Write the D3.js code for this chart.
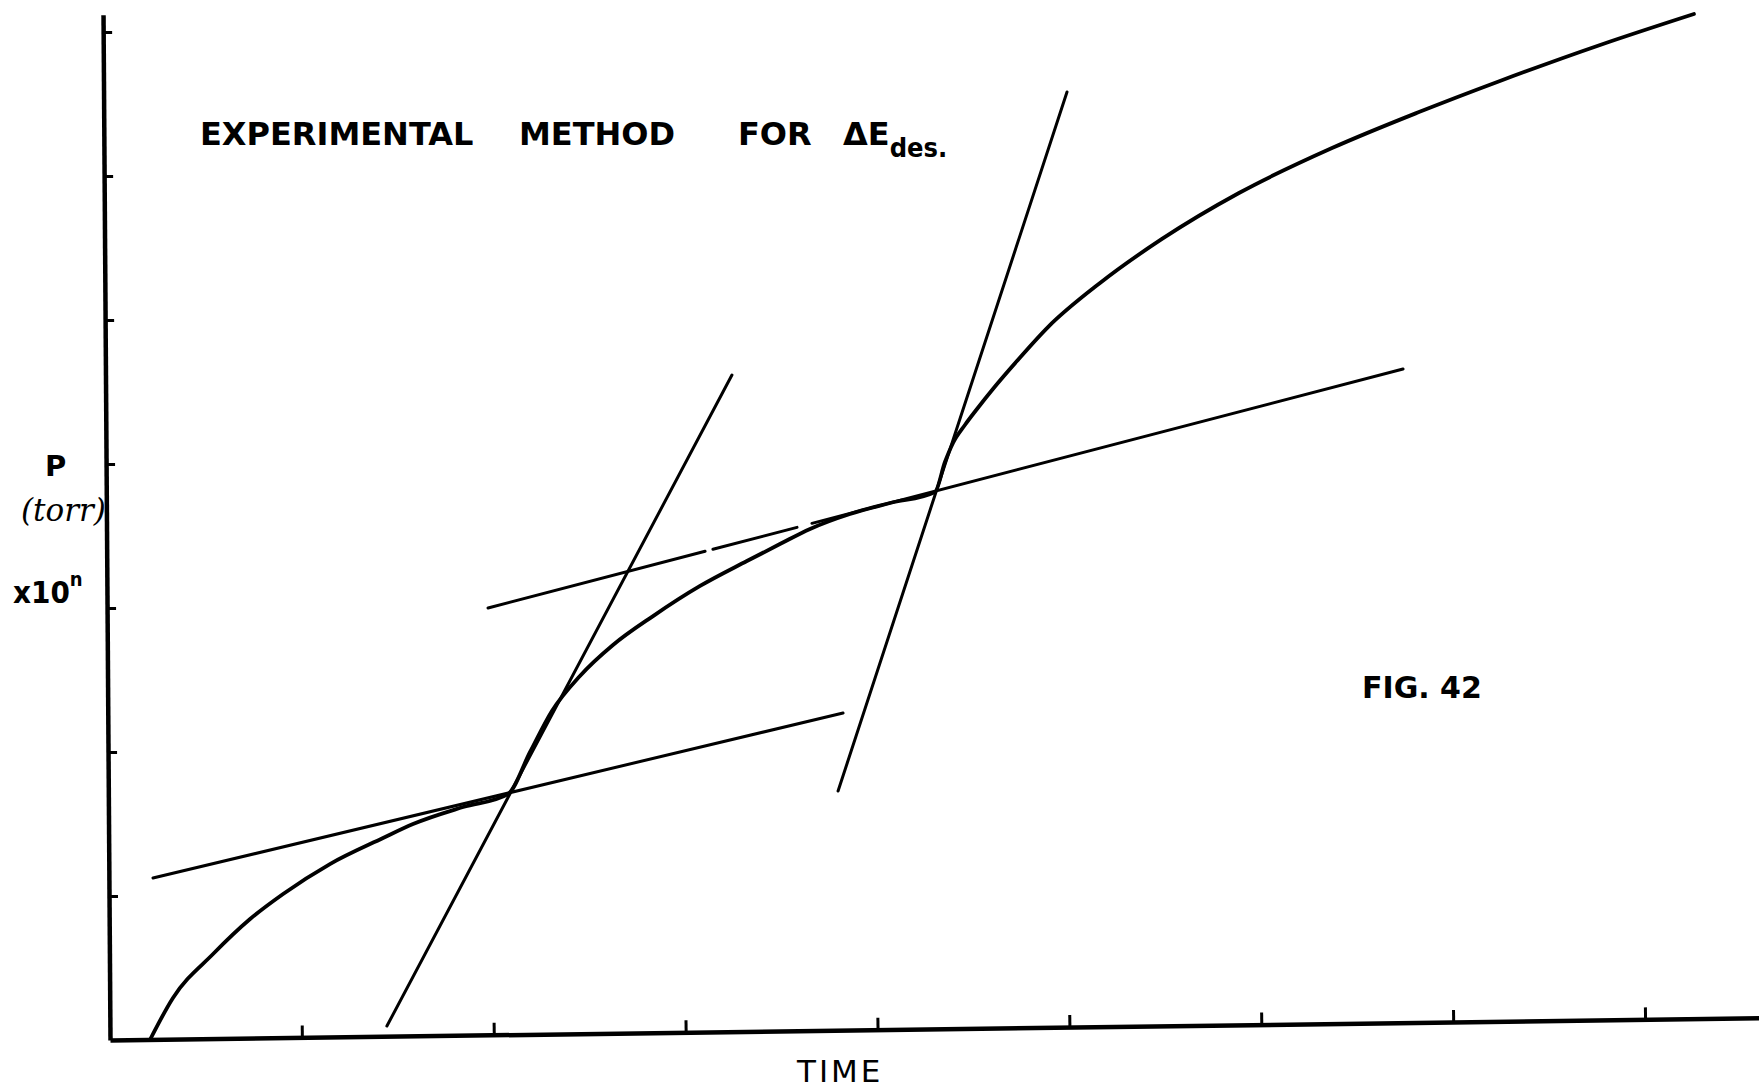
<!DOCTYPE html>
<html>
<head>
<meta charset="utf-8">
<script src="https://cdn.jsdelivr.net/npm/d3@7"></script>
<style>
  html, body { margin: 0; padding: 0; background: #fff; }
  svg { display: block; }
</style>
</head>
<body>
<svg id="chart" width="1759" height="1092"></svg>
<script>
// Tick marks (unlabelled) on both axes
const timeTicks = [1, 2, 3, 4, 5, 6, 7, 8];
const pressureTicks = [1, 2, 3, 4, 5, 6, 7];

// Pressure rise during the two-step desorption (arbitrary units)
const curveTime = [0.208, 0.328, 0.537, 0.730, 0.902, 1.146, 1.423, 1.579, 1.840, 2.074,
  2.189, 2.303, 2.449, 2.621, 2.830, 3.075, 3.319, 3.491, 3.648, 3.856, 4.065, 4.299,
  4.351, 4.393, 4.455, 4.518, 4.601, 4.726, 4.888, 5.159, 5.482, 5.883, 6.368, 6.821, 7.243, 7.765, 8.254];
const curvePressure = [0.000, 0.292, 0.597, 0.840, 1.014, 1.222, 1.403, 1.500, 1.618, 1.708,
  2.000, 2.285, 2.528, 2.743, 2.944, 3.153, 3.326, 3.444, 3.549, 3.653, 3.729, 3.806,
  4.014, 4.146, 4.271, 4.382, 4.521, 4.715, 4.951, 5.257, 5.563, 5.882, 6.194, 6.444, 6.660, 6.910, 7.125];

// Tangent constructions: start / end points of each straight line
const tangentNames = ["slow-1", "rise-1", "slow-2a", "slow-2b", "slow-2c", "rise-2"];
const tangentT0 = [0.224, 1.443, 1.970, 3.142, 3.658, 3.794];
const tangentP0 = [1.125, 0.097, 3.000, 3.408, 3.588, 1.729];
const tangentT1 = [3.820, 3.241, 3.101, 3.580, 6.738, 4.987];
const tangentP1 = [2.271, 4.618, 3.394, 3.560, 4.660, 6.583];

const svg = d3.select("#chart");

const x = d3.scaleLinear().domain([0, 8.6]).range([110, 110 + 8.6 * 191.9]);
const y = d3.scaleLinear().domain([0, 7.12]).range([1040, 1040 - 7.12 * 144]);
const ox = x(0), oy = y(0);

// Axes (hand-ruled, very slightly askew)
const xAxisG = svg.append("g")
  .attr("transform", `translate(0,${oy}) rotate(-0.77 ${ox} 0)`)
  .call(d3.axisBottom(x).tickValues(timeTicks).tickSizeInner(-12).tickSizeOuter(0).tickFormat(""));
xAxisG.select(".domain").attr("stroke", "#000").attr("stroke-width", 4.5);
xAxisG.selectAll(".tick line").attr("stroke", "#000").attr("stroke-width", 3);

const yAxisG = svg.append("g")
  .attr("transform", `translate(${ox},0) rotate(-0.39 0 ${oy})`)
  .call(d3.axisLeft(y).tickValues(pressureTicks).tickSizeInner(-9).tickSizeOuter(0).tickFormat(""));
yAxisG.select(".domain").attr("stroke", "#000").attr("stroke-width", 4.5);
yAxisG.selectAll(".tick line").attr("stroke", "#000").attr("stroke-width", 3);

// Tangent lines
const straight = d3.line().x(d => x(d[0])).y(d => y(d[1]));
svg.append("g").selectAll("path")
  .data(tangentNames.map((n, i) => ({ name: n, pts: [[tangentT0[i], tangentP0[i]], [tangentT1[i], tangentP1[i]]] })))
  .join("path")
  .attr("class", d => "tangent " + d.name)
  .attr("d", d => straight(d.pts))
  .attr("fill", "none")
  .attr("stroke", "#000")
  .attr("stroke-width", 3)
  .attr("stroke-linecap", "round");

// Pressure curve
const curve = d3.line().x(d => x(d[0])).y(d => y(d[1])).curve(d3.curveMonotoneX);
svg.append("path")
  .datum(curveTime.map((t, i) => [t, curvePressure[i]]))
  .attr("d", curve)
  .attr("fill", "none")
  .attr("stroke", "#000")
  .attr("stroke-width", 3.8)
  .attr("stroke-linecap", "round")
  .attr("stroke-linejoin", "round");

// Title
const titleWords = ["EXPERIMENTAL", "METHOD", "FOR"];
const titleX = [200, 519, 738];
const tg = svg.append("g")
  .attr("font-family", "DejaVu Sans, sans-serif")
  .attr("font-weight", "bold")
  .attr("font-size", 32)
  .attr("fill", "#000");
tg.selectAll("text.word").data(titleWords).join("text")
  .attr("class", "word")
  .attr("x", (d, i) => titleX[i]).attr("y", 145)
  .text(d => d);
const delta = tg.append("text").attr("x", 843).attr("y", 145);
delta.append("tspan").text("ΔE");
delta.append("tspan")
  .attr("font-family", "DejaVu Sans Condensed, DejaVu Sans, sans-serif")
  .attr("font-size", 27).attr("dy", 12).text("des.");

// Y-axis label
const yl = svg.append("g").attr("fill", "#000");
yl.append("text").attr("x", 45).attr("y", 476)
  .attr("font-family", "DejaVu Sans, sans-serif").attr("font-weight", "bold").attr("font-size", 29)
  .text("P");
yl.append("text").attr("x", 21).attr("y", 521)
  .attr("font-family", "DejaVu Serif, serif").attr("font-style", "italic").attr("font-size", 31)
  .text("(torr)");
const mult = yl.append("text").attr("x", 13).attr("y", 603)
  .attr("font-family", "DejaVu Sans Condensed, DejaVu Sans, sans-serif").attr("font-weight", "bold").attr("font-size", 31);
mult.append("tspan").text("x10");
mult.append("tspan").attr("font-size", 20).attr("dy", -17).text("n");

// X-axis label
svg.append("text").attr("x", 797).attr("y", 1082)
  .attr("font-family", "DejaVu Sans, sans-serif").attr("font-size", 31).attr("letter-spacing", 3)
  .attr("fill", "#000")
  .text("TIME");

// Figure number
svg.append("text").attr("x", 1362).attr("y", 698)
  .attr("font-family", "DejaVu Sans, sans-serif").attr("font-weight", "bold").attr("font-size", 30)
  .attr("fill", "#000")
  .text("FIG. 42");
</script>
</body>
</html>
